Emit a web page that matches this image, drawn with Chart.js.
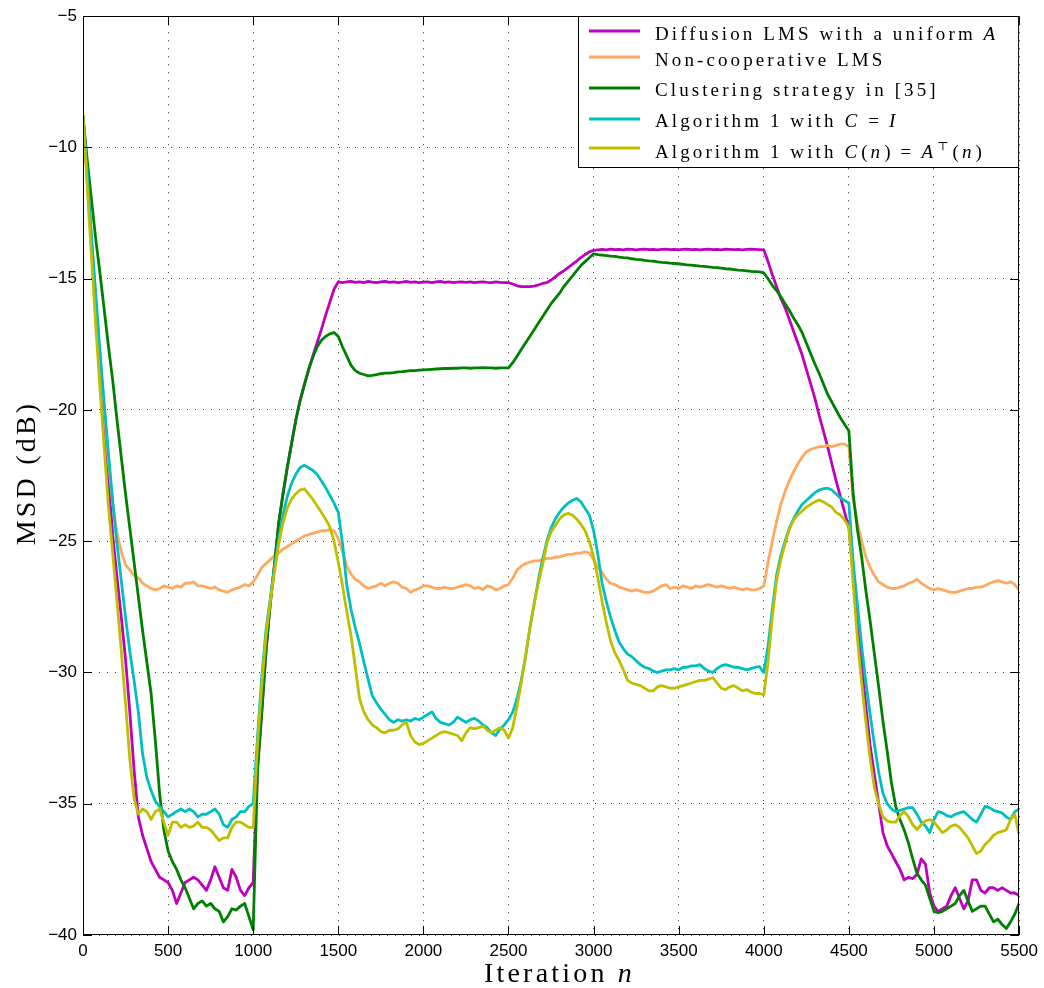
<!DOCTYPE html>
<html>
<head>
<meta charset="utf-8">
<title>MSD vs iteration</title>
<script src="https://cdn.jsdelivr.net/npm/chart.js@4.4.1/dist/chart.umd.min.js"></script>
<style>
  html, body { margin: 0; padding: 0; background: #ffffff; }
  #wrap { width: 1044px; height: 988px; position: relative; }
  canvas { display: block; }
</style>
</head>
<body>
<div id="wrap"><canvas id="msd" width="1044" height="988"></canvas></div>
<script>
// Sample grid: one MSD value every 25 iterations, 0 … 5500
const iterations = Array.from({ length: 221 }, (_, i) => i * 25);

// Axis ticks
const xTicks = [0, 500, 1000, 1500, 2000, 2500, 3000, 3500, 4000, 4500, 5000, 5500];
const yTicks = [-40, -35, -30, -25, -20, -15, -10, -5];

// Diffusion LMS with a uniform A (dB)
const diffusionMSD = [
  -8.8, -11.2, -13.7, -16.0, -18.3, -20.5, -22.7, -24.8, -26.4, -27.9, -29.5, -31.5, -33.7, -35.5, -36.2, -36.7, -37.2, -37.5, -37.8, -37.9,
  -38.0, -38.3, -38.8, -38.4, -38.0, -37.9, -37.8, -37.9, -38.1, -38.3, -37.9, -37.4, -37.8, -38.2, -38.3, -37.5, -37.8, -38.3, -38.5, -38.2,
  -38.0, -33.6, -31.5, -29.2, -27.4, -25.9, -24.3, -23.2, -22.2, -21.3, -20.4, -19.65, -19.05, -18.5, -17.95, -17.45, -16.95, -16.4, -15.9, -15.4,
  -15.12, -15.15, -15.12, -15.1, -15.14, -15.12, -15.15, -15.1, -15.13, -15.15, -15.12, -15.1, -15.14, -15.12, -15.15, -15.13, -15.1, -15.14, -15.12, -15.15,
  -15.13, -15.12, -15.15, -15.12, -15.1, -15.14, -15.12, -15.15, -15.13, -15.12, -15.14, -15.12, -15.15, -15.13, -15.12, -15.14, -15.15, -15.12, -15.14, -15.15,
  -15.15, -15.2, -15.27, -15.3, -15.3, -15.3, -15.28, -15.24, -15.18, -15.15, -15.05, -14.93, -14.8, -14.7, -14.58, -14.45, -14.33, -14.2, -14.08, -13.98,
  -13.92, -13.9, -13.88, -13.9, -13.87, -13.89, -13.88, -13.9, -13.87, -13.88, -13.9, -13.88, -13.87, -13.89, -13.88, -13.9, -13.88, -13.87, -13.89, -13.88,
  -13.9, -13.88, -13.87, -13.89, -13.88, -13.9, -13.88, -13.87, -13.89, -13.88, -13.9, -13.87, -13.88, -13.89, -13.88, -13.9, -13.88, -13.87, -13.88, -13.89,
  -13.9, -14.35, -14.85, -15.3, -15.75, -16.1, -16.55, -17.0, -17.45, -17.9, -18.45, -19.0, -19.55, -20.2, -20.8, -21.4, -22.05, -22.7, -23.3, -23.9,
  -24.5, -26.2, -28.0, -29.7, -31.3, -32.8, -33.9, -35.0, -36.1, -36.6, -36.9, -37.2, -37.5, -37.9, -37.8, -37.85, -37.7, -37.1, -37.3, -38.4,
  -38.9, -39.1, -39.0, -38.9, -38.5, -38.2, -38.6, -39.0, -38.7, -37.9, -37.9, -38.3, -38.4, -38.2, -38.2, -38.3, -38.2, -38.3, -38.4, -38.4,
  -38.5
];

// Non-cooperative LMS (dB)
const noncoopMSD = [
  -8.8, -11.1, -13.5, -15.8, -18.0, -20.0, -22.0, -23.6, -24.7, -25.4, -25.9, -26.1, -26.3, -26.4, -26.6, -26.7, -26.8, -26.85, -26.8, -26.7,
  -26.75, -26.8, -26.7, -26.75, -26.6, -26.6, -26.55, -26.7, -26.7, -26.75, -26.8, -26.75, -26.85, -26.9, -26.95, -26.85, -26.8, -26.75, -26.65, -26.7,
  -26.55, -26.3, -26.0, -25.85, -25.7, -25.55, -25.45, -25.3, -25.2, -25.1, -25.0, -24.9, -24.8, -24.75, -24.7, -24.65, -24.6, -24.6, -24.55, -24.6,
  -24.9, -25.4, -25.95, -26.25, -26.45, -26.55, -26.7, -26.8, -26.75, -26.7, -26.6, -26.7, -26.6, -26.55, -26.6, -26.75, -26.8, -26.95, -26.85, -26.8,
  -26.7, -26.7, -26.75, -26.8, -26.8, -26.75, -26.8, -26.8, -26.75, -26.7, -26.65, -26.7, -26.8, -26.75, -26.85, -26.7, -26.75, -26.85, -26.8, -26.7,
  -26.65, -26.4, -26.1, -25.95, -25.85, -25.8, -25.75, -25.75, -25.7, -25.65, -25.65, -25.6, -25.6, -25.55, -25.5, -25.5, -25.45, -25.45, -25.4, -25.45,
  -25.7, -26.0, -26.2, -26.45, -26.6, -26.65, -26.75, -26.8, -26.85, -26.9, -26.85, -26.9, -26.95, -26.95, -26.9, -26.8, -26.7, -26.65, -26.8, -26.75,
  -26.8, -26.7, -26.75, -26.8, -26.7, -26.75, -26.7, -26.65, -26.7, -26.75, -26.7, -26.75, -26.8, -26.75, -26.8, -26.85, -26.8, -26.85, -26.85, -26.8,
  -26.7, -25.8, -25.0, -24.25, -23.6, -23.1, -22.7, -22.35, -22.05, -21.8, -21.6, -21.5, -21.45, -21.4, -21.4, -21.35, -21.4, -21.35, -21.3, -21.3,
  -21.4, -23.4, -24.3, -25.0, -25.6, -26.0, -26.3, -26.55, -26.65, -26.75, -26.8, -26.8, -26.75, -26.7, -26.6, -26.55, -26.45, -26.6, -26.7, -26.8,
  -26.85, -26.8, -26.85, -26.9, -26.95, -26.95, -26.9, -26.85, -26.8, -26.8, -26.75, -26.75, -26.7, -26.6, -26.55, -26.5, -26.55, -26.6, -26.55, -26.65,
  -26.85
];

// Clustering strategy in [35] (dB)
const clusteringMSD = [
  -8.8, -10.5, -12.0, -13.5, -14.8, -16.2, -17.6, -18.9, -20.4, -21.8, -23.2, -24.5, -25.8, -27.1, -28.4, -29.6, -30.8, -32.6, -34.6, -36.0,
  -36.8, -37.2, -37.5, -37.9, -38.2, -38.6, -39.0, -38.8, -38.7, -38.9, -38.8, -39.0, -39.1, -39.5, -39.3, -39.0, -39.05, -38.9, -38.8, -39.3,
  -39.8, -33.8, -31.6, -29.2, -27.4, -25.9, -24.3, -23.2, -22.2, -21.3, -20.4, -19.65, -19.05, -18.45, -18.0, -17.6, -17.35, -17.2, -17.1, -17.05,
  -17.2, -17.6, -17.95, -18.3, -18.5, -18.6, -18.65, -18.7, -18.68, -18.65, -18.62, -18.6, -18.6, -18.58, -18.55, -18.54, -18.52, -18.5, -18.5, -18.48,
  -18.47, -18.46, -18.45, -18.44, -18.43, -18.42, -18.42, -18.41, -18.41, -18.4, -18.4, -18.41, -18.4, -18.4, -18.39, -18.4, -18.4, -18.41, -18.4, -18.4,
  -18.4, -18.2, -17.95, -17.7, -17.45, -17.2, -16.95, -16.7, -16.45, -16.2, -15.95, -15.75, -15.55, -15.3, -15.1, -14.9, -14.7, -14.5, -14.35, -14.2,
  -14.05, -14.08, -14.1, -14.12, -14.14, -14.15, -14.18, -14.2, -14.21, -14.24, -14.26, -14.27, -14.3, -14.32, -14.33, -14.36, -14.38, -14.39, -14.41, -14.42,
  -14.43, -14.45, -14.47, -14.48, -14.5, -14.52, -14.53, -14.55, -14.57, -14.58, -14.6, -14.62, -14.63, -14.65, -14.67, -14.68, -14.7, -14.72, -14.73, -14.74,
  -14.78, -15.0, -15.25, -15.45, -15.69, -15.95, -16.2, -16.5, -16.75, -17.05, -17.45, -17.85, -18.25, -18.6, -19.0, -19.4, -19.7, -20.0, -20.3, -20.55,
  -20.8, -23.2, -24.55, -25.6, -26.9, -28.05, -29.3, -30.55, -31.85, -33.0, -34.2, -35.1, -35.6, -36.0, -36.5, -37.1, -37.65, -37.9, -38.1, -38.6,
  -39.1, -39.15, -39.1, -39.0, -38.9, -38.8, -38.5, -38.3, -38.7, -39.1, -39.0, -38.9, -38.9, -39.2, -39.5, -39.4, -39.6, -39.75, -39.5, -39.2,
  -38.8
];

// Algorithm 1 with C = I (dB)
const algIdentityMSD = [
  -8.8, -11.0, -13.4, -15.6, -17.8, -19.8, -21.7, -23.5, -25.1, -26.5, -27.9, -29.2, -30.3, -31.5, -33.1, -34.0, -34.5, -34.9, -35.1, -35.3,
  -35.5, -35.4, -35.3, -35.2, -35.3, -35.2, -35.3, -35.5, -35.4, -35.4, -35.3, -35.2, -35.4, -35.8, -35.9, -35.6, -35.5, -35.3, -35.3, -35.1,
  -35.0, -32.5, -30.2, -28.4, -27.2, -26.0, -24.9, -24.0, -23.3, -22.8, -22.45, -22.2, -22.1, -22.2, -22.3, -22.45, -22.7, -22.95, -23.25, -23.55,
  -23.9, -25.1, -26.7, -27.6, -28.3, -28.9, -29.6, -30.25, -30.9, -31.15, -31.4, -31.6, -31.8, -31.9, -31.8, -31.85, -31.8, -31.85, -31.75, -31.8,
  -31.7, -31.6, -31.5, -31.75, -31.9, -31.95, -32.0, -31.9, -31.7, -31.8, -31.9, -31.8, -31.75, -31.85, -32.0, -32.1, -32.3, -32.4, -32.15, -32.0,
  -31.8, -31.5, -31.0, -30.3, -29.4, -28.35, -27.4, -26.5, -25.7, -25.0, -24.5, -24.15, -23.9, -23.7, -23.55, -23.45, -23.37, -23.5, -23.75, -24.0,
  -24.6, -25.5, -26.6, -27.3, -27.9, -28.4, -28.85, -29.1, -29.3, -29.4, -29.55, -29.7, -29.8, -29.85, -29.95, -30.0, -29.95, -29.9, -29.9, -29.85,
  -29.9, -29.8, -29.8, -29.75, -29.75, -29.7, -29.85, -29.95, -30.0, -29.85, -29.75, -29.7, -29.75, -29.8, -29.8, -29.85, -29.9, -29.85, -29.8, -29.78,
  -30.0, -29.0, -27.6, -26.3, -25.55, -25.0, -24.5, -24.15, -23.85, -23.6, -23.45, -23.3, -23.15, -23.05, -23.0, -22.98, -23.05, -23.2, -23.35, -23.45,
  -23.55, -25.8, -27.4, -29.0, -30.4, -31.6, -32.75, -33.8, -34.6, -35.0, -35.2, -35.3, -35.25, -35.2, -35.15, -35.15, -35.4, -35.7, -35.85, -36.1,
  -35.6, -35.3, -35.35, -35.45, -35.5, -35.4, -35.35, -35.3, -35.45, -35.6, -35.7, -35.4, -35.1, -35.15, -35.25, -35.3, -35.35, -35.5, -35.6, -35.3,
  -35.2
];

// Algorithm 1 with C(n) = A^T(n) (dB)
const algTransposeMSD = [
  -8.8, -11.5, -14.2, -16.8, -19.2, -21.5, -23.7, -25.5, -27.3, -29.2, -31.2, -33.3, -34.8, -35.4, -35.2, -35.3, -35.6, -35.3, -35.2, -35.7,
  -36.2, -35.7, -35.7, -35.9, -35.8, -35.9, -35.85, -35.7, -35.9, -35.9, -36.0, -36.2, -36.4, -36.3, -36.3, -35.9, -35.7, -35.7, -35.8, -35.9,
  -35.9, -32.8, -30.5, -28.6, -27.3, -26.2, -25.1, -24.3, -23.75, -23.4, -23.2, -23.05, -23.0, -23.2, -23.4, -23.65, -23.9, -24.15, -24.45, -25.0,
  -25.8, -26.7, -27.7, -28.6, -29.8, -31.0, -31.5, -31.8, -32.0, -32.1, -32.25, -32.3, -32.2, -32.2, -32.15, -32.0, -31.9, -32.4, -32.65, -32.75,
  -32.7, -32.6, -32.5, -32.4, -32.3, -32.25, -32.3, -32.35, -32.4, -32.6, -32.3, -32.1, -32.15, -32.1, -32.05, -32.2, -32.3, -32.2, -32.1, -32.2,
  -32.5, -32.1, -31.3, -30.4, -29.4, -28.3, -27.4, -26.6, -25.9, -25.1, -24.65, -24.4, -24.15, -24.0, -23.94, -24.0, -24.15, -24.35, -24.6, -25.0,
  -25.6, -26.4, -27.3, -28.1, -28.8, -29.25, -29.55, -29.9, -30.3, -30.4, -30.45, -30.5, -30.6, -30.7, -30.7, -30.55, -30.5, -30.55, -30.6, -30.6,
  -30.55, -30.5, -30.45, -30.4, -30.35, -30.3, -30.3, -30.25, -30.2, -30.4, -30.6, -30.65, -30.55, -30.5, -30.6, -30.7, -30.65, -30.75, -30.8, -30.8,
  -30.85, -29.6, -27.9, -26.5, -25.7, -25.1, -24.55, -24.2, -24.0, -23.85, -23.7, -23.6, -23.5, -23.43, -23.5, -23.6, -23.7, -23.9, -24.0, -24.2,
  -24.45, -26.6, -28.7, -30.4, -31.9, -33.3, -34.4, -35.0, -35.5, -35.65, -35.7, -35.7, -35.45, -35.3, -35.5, -35.8, -35.98, -35.8, -35.65, -35.6,
  -35.7, -35.9, -36.1, -36.0, -35.85, -35.8, -35.9, -36.1, -36.3, -36.6, -36.9, -36.8, -36.55, -36.4, -36.2, -36.1, -36.05, -36.0, -35.6, -35.4,
  -36.2
];

// Series styling and legend rows
// (runs: r = roman, i = math italic, o = relation with thick spaces, s = superscript)
const series = [
  { values: diffusionMSD,    color: '#bf00bf', order: 4,
    legend: [['Diffusion LMS with a uniform ', 'r'], ['A', 'i']] },
  { values: noncoopMSD,      color: '#ffa95e', order: 3,
    legend: [['Non-cooperative LMS', 'r']] },
  { values: clusteringMSD,   color: '#008000', order: 2,
    legend: [['Clustering strategy in [35]', 'r']] },
  { values: algIdentityMSD,  color: '#00bfbf', order: 1,
    legend: [['Algorithm 1 with ', 'r'], ['C', 'i'], ['=', 'o'], ['I', 'i']] },
  { values: algTransposeMSD, color: '#bfbf00', order: 0,
    legend: [['Algorithm 1 with ', 'r'], ['C', 'i'], ['(', 'r'], ['n', 'i'], [')', 'r'], ['=', 'o'],
             ['A', 'i'], ['\u22A4', 's'], ['(', 'r'], ['n', 'i'], [')', 'r']] }
];

const SERIF = '"Liberation Serif", "DejaVu Serif", serif';
const SANS = '"Liberation Sans", Arial, sans-serif';
const minusFmt = v => (v < 0 ? '\u2212' + Math.abs(v) : String(v));

// Lays out a row of styled runs; draws them when `draw` is true, returns end x
function layoutRich(ctx, runs, x, y, size, spacing, draw) {
  for (const [txt, style] of runs) {
    let fs = size, dy = 0, italic = '', padL = 0, padR = 0;
    if (style === 'i') { italic = 'italic '; padR = 1; }
    if (style === 'o') { padL = 7; padR = 7; }
    if (style === 's') { fs = Math.round(size * 0.62); dy = -size * 0.42; padR = 1; }
    ctx.font = italic + fs + 'px ' + SERIF;
    ctx.letterSpacing = spacing + 'px';
    x += padL;
    if (draw) ctx.fillText(txt, x, y + dy);
    x += ctx.measureText(txt).width + padR;
  }
  return x;
}

// Box, inward tick marks, axis titles and legend
const decorations = {
  id: 'decorations',
  afterDraw(chart) {
    const { ctx, chartArea: a, scales: { x, y } } = chart;
    ctx.save();
    ctx.strokeStyle = '#000';
    ctx.lineWidth = 1;
    ctx.setLineDash([]);
    ctx.strokeRect(Math.round(a.left) + 0.5, Math.round(a.top) + 0.5,
                   Math.round(a.right - a.left) - 1, Math.round(a.bottom - a.top) - 1);
    const tl = 9;
    ctx.beginPath();
    for (const v of xTicks) {
      const px = Math.round(x.getPixelForValue(v)) + 0.5;
      ctx.moveTo(px, a.bottom); ctx.lineTo(px, a.bottom - tl);
      ctx.moveTo(px, a.top); ctx.lineTo(px, a.top + tl);
    }
    for (const v of yTicks) {
      const py = Math.round(y.getPixelForValue(v)) + 0.5;
      ctx.moveTo(a.left, py); ctx.lineTo(a.left + tl, py);
      ctx.moveTo(a.right, py); ctx.lineTo(a.right - tl, py);
    }
    ctx.stroke();

    // Axis titles
    ctx.fillStyle = '#000';
    ctx.textBaseline = 'alphabetic';
    ctx.textAlign = 'left';
    const tSize = 28, tSp = 3.2;
    const xTitle = [['Iteration ', 'r'], ['n', 'i']];
    const xw = layoutRich(ctx, xTitle, 0, 0, tSize, tSp, false);
    layoutRich(ctx, xTitle, 560 - xw / 2, 982, tSize, tSp, true);
    const yTitle = [['MSD (dB)', 'r']];
    const yw = layoutRich(ctx, yTitle, 0, 0, tSize, tSp, false);
    ctx.save();
    ctx.translate(35, 473);
    ctx.rotate(-Math.PI / 2);
    layoutRich(ctx, yTitle, -yw / 2, 0, tSize, tSp, true);
    ctx.restore();

    // Legend
    const L = { left: 578, top: 16, right: a.right, bottom: 168 };
    ctx.fillStyle = '#fff';
    ctx.fillRect(L.left, L.top, L.right - L.left, L.bottom - L.top);
    ctx.strokeStyle = '#000';
    ctx.lineWidth = 1;
    ctx.strokeRect(L.left + 0.5, L.top + 0.5, L.right - L.left - 1, L.bottom - L.top - 1);
    const lineY = [31, 57, 88, 119, 148];
    const baseY = [40, 66, 96, 127, 158];
    series.forEach((s, i) => {
      ctx.strokeStyle = s.color;
      ctx.lineWidth = 3;
      ctx.beginPath();
      ctx.moveTo(589, lineY[i]); ctx.lineTo(640, lineY[i]);
      ctx.stroke();
      ctx.fillStyle = '#000';
      layoutRich(ctx, s.legend, 655, baseY[i], 19, 3.1, true);
    });
    ctx.restore();
  }
};

const ctx = document.getElementById('msd').getContext('2d');
new Chart(ctx, {
  type: 'line',
  data: {
    datasets: series.map(s => ({
      data: iterations.map((n, i) => ({ x: n, y: s.values[i] })),
      borderColor: s.color,
      borderWidth: 2.8,
      pointRadius: 0,
      tension: 0,
      fill: false,
      order: s.order,
      borderJoinStyle: 'round',
      borderCapStyle: 'round'
    }))
  },
  options: {
    responsive: false,
    animation: false,
    devicePixelRatio: 1,
    layout: { padding: { top: 16, right: 22, left: 0, bottom: 0 } },
    plugins: { legend: { display: false }, tooltip: { enabled: false } },
    scales: {
      x: {
        type: 'linear', min: 0, max: 5500,
        afterBuildTicks: s => { s.ticks = xTicks.map(v => ({ value: v })); },
        afterFit: s => { s.height = 53; },
        grid: { color: 'rgba(0,0,0,0.8)', lineWidth: 1, drawTicks: false },
        border: { display: false, dash: [1, 7] },
        ticks: { font: { family: SANS, size: 17 }, color: '#000', padding: 6,
                 maxRotation: 0, autoSkip: false, callback: v => minusFmt(v) }
      },
      y: {
        type: 'linear', min: -40, max: -5,
        afterBuildTicks: s => { s.ticks = yTicks.map(v => ({ value: v })); },
        afterFit: s => { s.width = 83; },
        grid: { color: 'rgba(0,0,0,0.8)', lineWidth: 1, drawTicks: false },
        border: { display: false, dash: [1, 7] },
        ticks: { font: { family: SANS, size: 17 }, color: '#000', padding: 6,
                 autoSkip: false, callback: v => minusFmt(v) }
      }
    }
  },
  plugins: [decorations]
});
</script>
</body>
</html>
